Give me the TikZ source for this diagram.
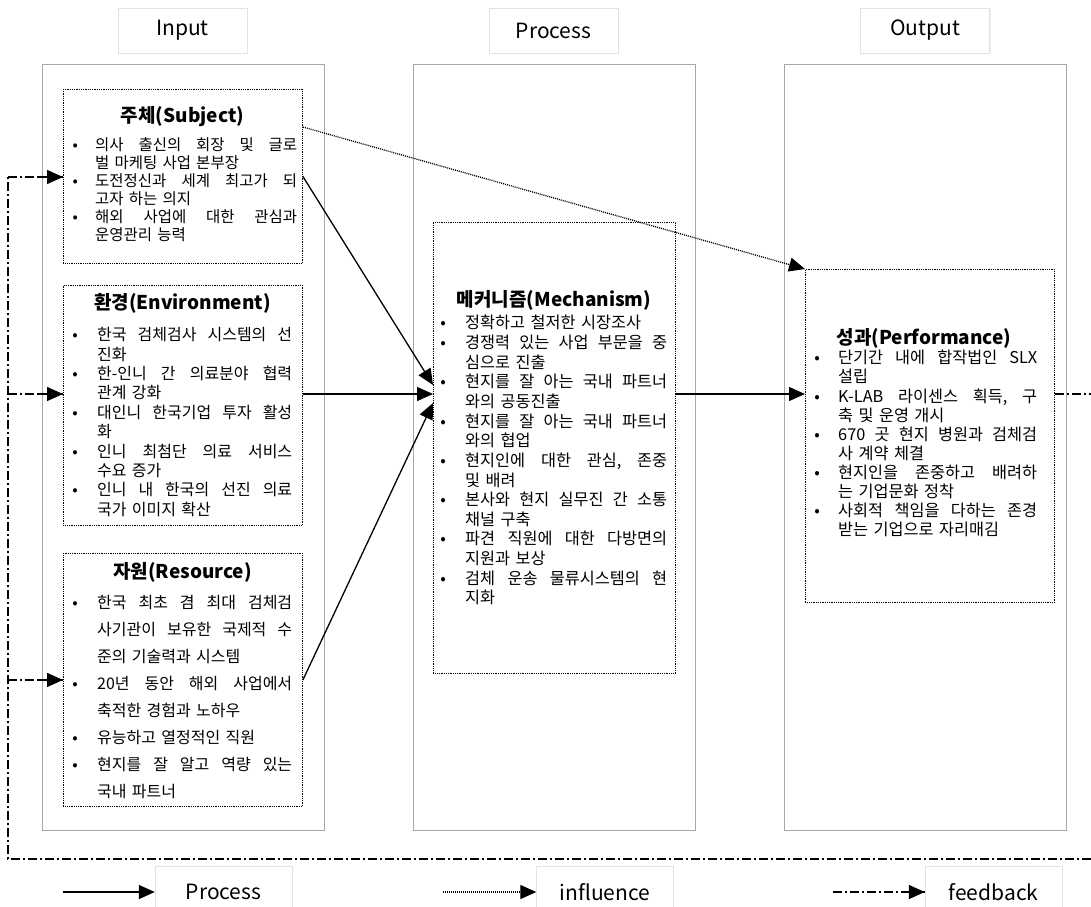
\documentclass[tikz,border=0pt]{standalone}
\usepackage{fontspec}
\setmainfont{Noto Sans CJK KR}
\usetikzlibrary{arrows.meta,shadows,calc}

\definecolor{colline}{HTML}{A8A8A8}
\definecolor{hdrline}{HTML}{E2E2E2}

% body text helpers: bullet lines and continuation lines, justified (J) or ragged (L)
\newlength\ind
\newlength\tw
\newcommand\bodyfont[2]{\fontsize{#1pt}{#2pt}\selectfont
  \lineskiplimit=-50pt\lineskip=0pt\parindent=0pt\relax}
% spread the words of a line over the full width
\def\jwords#1 #2\relax{#1\ifx\relax#2\relax\else\hfill\jwords#2\relax\fi}
\newcommand\justline[1]{\hbox to\tw{\jwords#1 \relax}}
\newcommand\itemJ[1]{\makebox[0pt]{•}\hspace*{\ind}\justline{#1}\strut}
\newcommand\itemL[1]{\makebox[0pt]{•}\hspace*{\ind}#1\strut}
\newcommand\contJ[1]{\hspace*{\ind}\justline{#1}\strut}
\newcommand\contL[1]{\hspace*{\ind}#1\strut}

\begin{document}
\begin{tikzpicture}[x=1pt,y=-1pt,
  col/.style={draw=colline, line width=1.1pt, anchor=north west, inner sep=0pt,
    minimum width=282pt, minimum height=766pt},
  hdr/.style={draw=hdrline, fill=white, inner sep=0pt, minimum width=129pt, minimum height=45pt,
    font=\fontsize{21pt}{24pt}\selectfont,
    general shadow={fill=black!7, shadow xshift=1.2pt, shadow yshift=-1.2pt}},
  lgbox/.style={draw=hdrline, inner sep=0pt, minimum width=137pt, minimum height=52pt,
    font=\fontsize{21pt}{24pt}\selectfont},
  ibox/.style={draw, line width=0.9pt, dash pattern=on 0.9pt off 0.9pt, anchor=north west, inner sep=0pt},
  body/.style={anchor=north west, inner sep=0pt, text width=240pt, align=left},
  title/.style={inner sep=0pt, font=\bfseries\fontsize{19pt}{22pt}\selectfont},
  tip/.style={-{Triangle[length=16pt,width=14pt]}},
  proc/.style={line width=1.3pt, tip},
  infl/.style={line width=1.3pt, dash pattern=on 1pt off 1pt, tip},
  fb/.style={line width=1.3pt, dash pattern=on 9pt off 3pt on 2pt off 3pt},
  fbtip/.style={line width=1.3pt, solid, tip},
]
\useasboundingbox (0,0) rectangle (1091,906);

% column headers
\node[hdr] (hIn)  at (182.5,30.5) {Input};
\node[hdr] (hPro) at (553.5,30.5) {Process};
\node[hdr] (hOut) at (925,30.5)   {Output};

% column frames
\node[col] (cIn)  at (42,64)  {};
\node[col] (cPro) at (413,64) {};
\node[col] (cOut) at (784,64) {};

% dotted content boxes
\node[ibox, minimum width=239pt, minimum height=174pt] (subj) at (63,89)  {};
\node[ibox, minimum width=239pt, minimum height=240pt] (env)  at (63,285) {};
\node[ibox, minimum width=239pt, minimum height=253pt] (res)  at (63,553) {};
\node[ibox, minimum width=242pt, minimum height=451pt] (mech) at (433,222) {};
\node[ibox, minimum width=249pt, minimum height=333pt] (perf) at (805,269) {};

% titles
\node[title] (tSubj) at (182.5,117) {주체(Subject)};
\node[title] (tEnv)  at (182.5,303) {환경(Environment)};
\node[title] (tRes)  at (182.5,572) {자원(Resource)};
\node[title] (tMech) at (554,300)   {메커니즘(Mechanism)};
\node[title] (tPerf) at (924,338)   {성과(Performance)};

% bullet lists
\node[body, font=\bodyfont{15.5}{18}] (xSubj) at (75,137) {\setlength\ind{20pt}\setlength\tw{202pt}%
\itemJ{의사 출신의 회장 및 글로}\\
\contL{벌 마케팅 사업 본부장}\\
\itemJ{도전정신과 세계 최고가 되}\\
\contL{고자 하는 의지}\\
\itemJ{해외 사업에 대한 관심과}\\
\contL{운영관리 능력}};

\node[body, font=\bodyfont{16}{19.4}] (xEnv) at (75,327) {\setlength\ind{22pt}\setlength\tw{195pt}%
\itemJ{한국 검체검사 시스템의 선}\\
\contL{진화}\\
\itemJ{한-인니 간 의료분야 협력}\\
\contL{관계 강화}\\
\itemJ{대인니 한국기업 투자 활성}\\
\contL{화}\\
\itemJ{인니 최첨단 의료 서비스}\\
\contL{수요 증가}\\
\itemJ{인니 내 한국의 선진 의료}\\
\contL{국가 이미지 확산}};

\node[body, font=\bodyfont{16}{27.1}] (xRes) at (75,589) {\setlength\ind{22pt}\setlength\tw{195pt}%
\itemJ{한국 최초 겸 최대 검체검}\\
\contJ{사기관이 보유한 국제적 수}\\
\contL{준의 기술력과 시스템}\\
\itemJ{20년 동안 해외 사업에서}\\
\contL{축적한 경험과 노하우}\\
\itemL{유능하고 열정적인 직원}\\
\itemJ{현지를 잘 알고 역량 있는}\\
\contL{국내 파트너}};

\node[body, font=\bodyfont{16.3}{19.64}] (xMech) at (443,315) {\setlength\ind{22pt}\setlength\tw{202pt}%
\itemL{정확하고 철저한 시장조사}\\
\itemJ{경쟁력 있는 사업 부문을 중}\\
\contL{심으로 진출}\\
\itemJ{현지를 잘 아는 국내 파트너}\\
\contL{와의 공동진출}\\
\itemJ{현지를 잘 아는 국내 파트너}\\
\contL{와의 협업}\\
\itemJ{현지인에 대한 관심, 존중}\\
\contL{및 배려}\\
\itemJ{본사와 현지 실무진 간 소통}\\
\contL{채널 구축}\\
\itemJ{파견 직원에 대한 다방면의}\\
\contL{지원과 보상}\\
\itemJ{검체 운송 물류시스템의 현}\\
\contL{지화}};

\node[body, font=\bodyfont{16.3}{19.1}] (xPerf) at (817,350) {\setlength\ind{21pt}\setlength\tw{199pt}%
\itemJ{단기간 내에 합작법인 SLX}\\
\contL{설립}\\
\itemJ{K-LAB 라이센스 획득, 구}\\
\contL{축 및 운영 개시}\\
\itemJ{670 곳 현지 병원과 검체검}\\
\contL{사 계약 체결}\\
\itemJ{현지인을 존중하고 배려하}\\
\contL{는 기업문화 정착}\\
\itemJ{사회적 책임을 다하는 존경}\\
\contL{받는 기업으로 자리매김}};

% reference heights for the connectors
\coordinate (yInfl) at (0,127);
\coordinate (yMid)  at (0,394);
\coordinate (yTipA) at (0,385);
\coordinate (yTipC) at (0,403);
\coordinate (fbCol) at (8,0);
\coordinate (fbTop) at (8,177);
\coordinate (fbCorner) at (8,859);
\coordinate (fbBotR) at (1091,859);
\coordinate (fbOutR) at (1091,394);

% influence
\draw[infl] (subj.east |- yInfl) -- (perf.north west);

% process flows
\draw[proc] (subj.east) -- (mech.west |- yTipA);
\draw[proc] (env.east |- yMid) -- (mech.west |- yMid);
\draw[proc] (res.east) -- (mech.west |- yTipC);
\draw[proc] (mech.east |- yMid) -- (perf.west |- yMid);

% feedback loop (dash-dot lines, solid heads laid over their ends)
\draw[fb] (perf.east |- yMid) -- (fbOutR);
\draw[fb] (fbBotR) -- (fbCorner) -- (fbTop);
\draw[fb] (fbTop) -- (subj.west |- fbTop);
\draw[fb] (fbCol |- yMid) -- (env.west |- yMid);
\draw[fb] (fbCol |- res.west) -- (res.west);
\draw[fbtip] ($(subj.west |- fbTop)+(-24,0)$) -- (subj.west |- fbTop);
\draw[fbtip] ($(env.west |- yMid)+(-24,0)$) -- (env.west |- yMid);
\draw[fbtip] ($(res.west)+(-24,0)$) -- (res.west);

% legend
\node[lgbox] (lgProc) at (223.5,892) {Process};
\node[lgbox] (lgInfl) at (605,892)   {influence};
\node[lgbox] (lgFb)   at (993.5,892) {feedback};
\coordinate (lgS1) at (63,892);
\coordinate (lgS2) at (443,892);
\coordinate (lgS3) at (833,892);
\draw[proc] (lgS1) -- (lgProc.west);
\draw[infl] (lgS2) -- (lgInfl.west);
\draw[fb] (lgS3) -- (lgFb.west);
\draw[fbtip] ($(lgFb.west)+(-24,0)$) -- (lgFb.west);
\end{tikzpicture}
\end{document}
